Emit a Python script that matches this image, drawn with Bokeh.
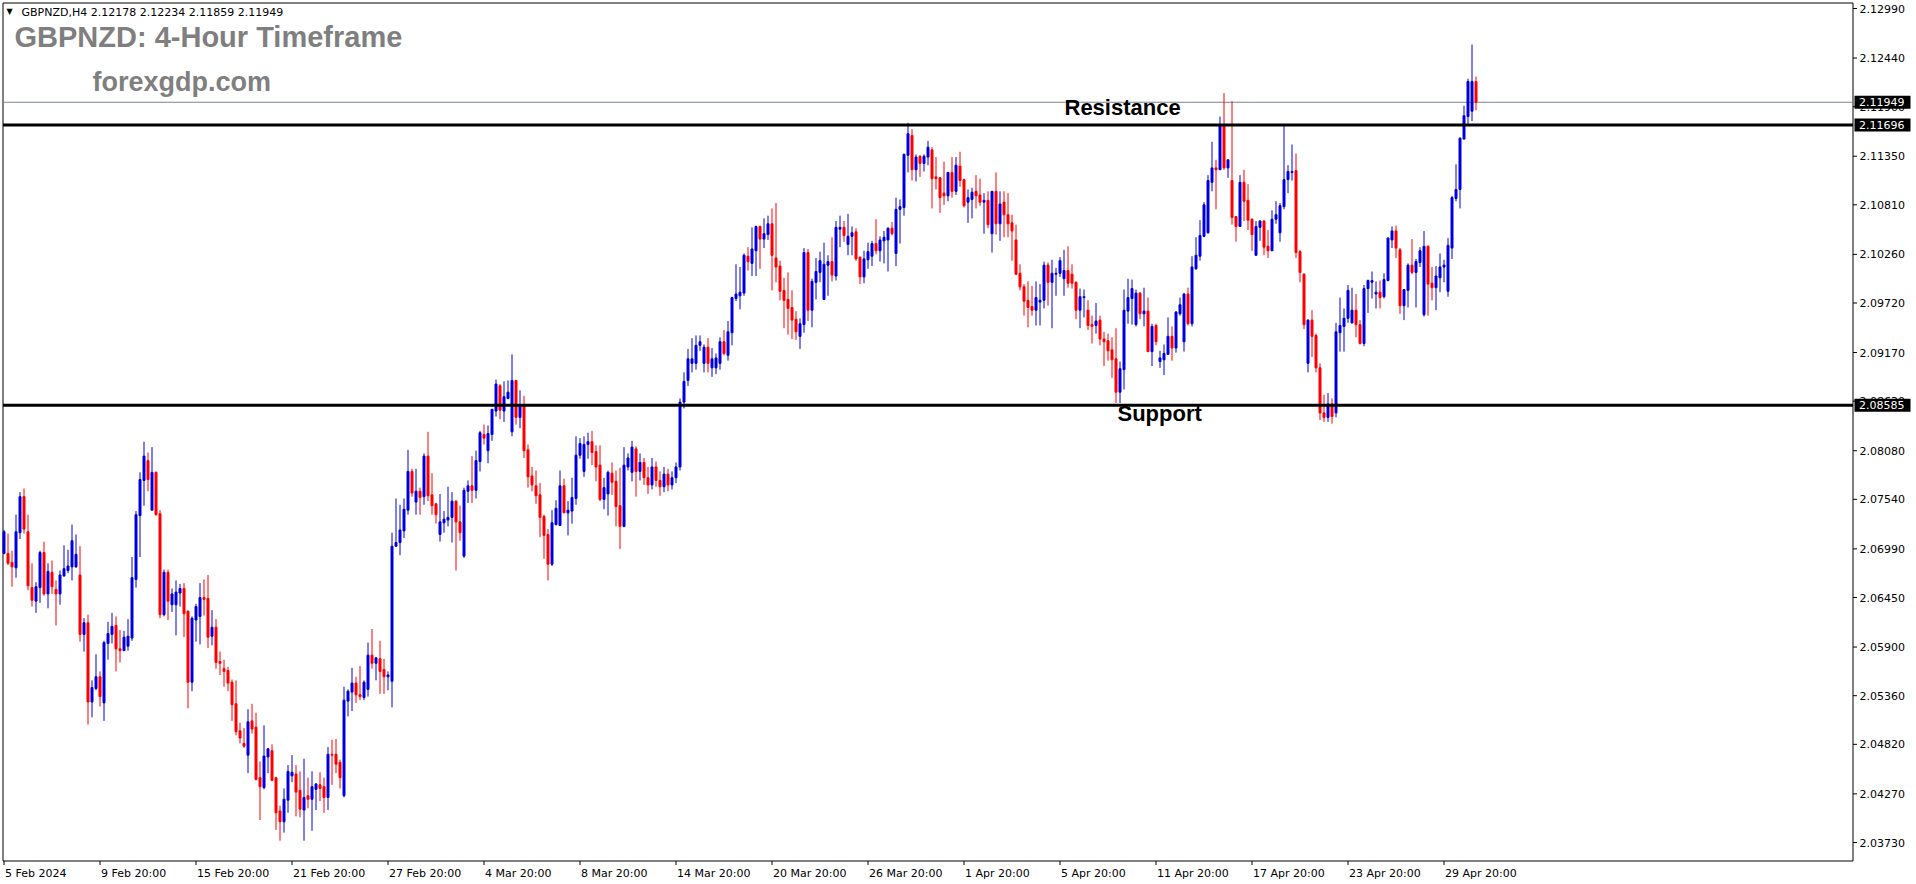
from bokeh.plotting import figure
from bokeh.models import Range1d, Label, ColumnDataSource
from bokeh.core.properties import value
from bokeh.embed import file_html
from bokeh.resources import INLINE

# ---------------- data (GBPNZD H4) ----------------
opens = [
    2.0694, 2.0694, 2.0684, 2.0678, 2.0717, 2.0757, 2.0718, 2.0656, 2.0641, 2.0656,
    2.0695, 2.0649, 2.0673, 2.0654, 2.0649, 2.0669, 2.0675, 2.0679, 2.0679, 2.0670,
    2.0604, 2.0617, 2.0529, 2.0544, 2.0557, 2.0528, 2.0594, 2.0604, 2.0614, 2.0588,
    2.0586, 2.0591, 2.0600, 2.0665, 2.0736, 2.0775, 2.0797, 2.0742, 2.0784, 2.0738,
    2.0626, 2.0673, 2.0637, 2.0637, 2.0650, 2.0655, 2.0630, 2.0551, 2.0620, 2.0624,
    2.0645, 2.0644, 2.0602, 2.0612, 2.0574, 2.0566, 2.0564, 2.0551, 2.0527, 2.0497,
    2.0483, 2.0470, 2.0508, 2.0501, 2.0445, 2.0434, 2.0468, 2.0475, 2.0445, 2.0408,
    2.0396, 2.0420, 2.0447, 2.0449, 2.0431, 2.0409, 2.0425, 2.0421, 2.0432, 2.0437,
    2.0435, 2.0423, 2.0471, 2.0471, 2.0462, 2.0425, 2.0530, 2.0540, 2.0550, 2.0537,
    2.0534, 2.0543, 2.0581, 2.0572, 2.0577, 2.0565, 2.0557, 2.0552, 2.0702, 2.0706,
    2.0719, 2.0742, 2.0785, 2.0751, 2.0763, 2.0757, 2.0802, 2.0759, 2.0749, 2.0715,
    2.0728, 2.0731, 2.0734, 2.0752, 2.0729, 2.0691, 2.0763, 2.0769, 2.0764, 2.0796,
    2.0826, 2.0808, 2.0826, 2.0852, 2.0880, 2.0852, 2.0866, 2.0829, 2.0886, 2.0845,
    2.0858, 2.0809, 2.0780, 2.0769, 2.0759, 2.0735, 2.0715, 2.0682, 2.0726, 2.0725,
    2.0769, 2.0739, 2.0741, 2.0755, 2.0803, 2.0785, 2.0815, 2.0818, 2.0807, 2.0792,
    2.0754, 2.0760, 2.0783, 2.0774, 2.0747, 2.0724, 2.0790, 2.0784, 2.0810, 2.0785,
    2.0795, 2.0778, 2.0770, 2.0790, 2.0775, 2.0768, 2.0782, 2.0770, 2.0778, 2.0790,
    2.0862, 2.0886, 2.0905, 2.0905, 2.0925, 2.0905, 2.0923, 2.0900, 2.0900, 2.0905,
    2.0929, 2.0914, 2.0939, 2.0977, 2.0980, 2.0983, 2.1024, 2.1016, 2.1030, 2.1057,
    2.1043, 2.1048, 2.1060, 2.1022, 2.1013, 2.0986, 2.0976, 2.0967, 2.0954, 2.0935,
    2.0948, 2.1028, 2.0964, 2.0995, 2.1006, 2.0976, 2.1014, 2.1018, 2.1002, 2.1054,
    2.1056, 2.1037, 2.1046, 2.1051, 2.1023, 2.1001, 2.1020, 2.1024, 2.1038, 2.1030,
    2.1041, 2.1042, 2.1055, 2.1027, 2.1076, 2.1078, 2.1136, 2.1158, 2.1120, 2.1135,
    2.1127, 2.1134, 2.1142, 2.1112, 2.1111, 2.1094, 2.1091, 2.1117, 2.1096, 2.1124,
    2.1109, 2.1084, 2.1087, 2.1096, 2.1092, 2.1084, 2.1086, 2.1049, 2.1096, 2.1060,
    2.1084, 2.1070, 2.1061, 2.1042, 2.1005, 2.0990, 2.0975, 2.0968, 2.0964, 2.0973,
    2.0975, 2.1014, 2.0995, 2.1004, 2.1005, 2.0999, 2.1008, 2.1004, 2.0995, 2.0964,
    2.0978, 2.0964, 2.0948, 2.0947, 2.0953, 2.0932, 2.0930, 2.0920, 2.0910, 2.0873,
    2.0898, 2.0963, 2.0977, 2.0948, 2.0983, 2.0960, 2.0963, 2.0918, 2.0947, 2.0907,
    2.0909, 2.0915, 2.0935, 2.0922, 2.0960, 2.0929, 2.0982, 2.0949, 2.1010, 2.1024,
    2.1046, 2.1050, 2.1106, 2.1122, 2.1120, 2.1169, 2.1122, 2.1108, 2.1068, 2.1057,
    2.1106, 2.1086, 2.1065, 2.1025, 2.1056, 2.1063, 2.1035, 2.1030, 2.1065, 2.1050,
    2.1079, 2.1109, 2.1117, 2.1119, 2.1029, 2.1004, 2.0905, 2.0953, 2.0936, 2.0900,
    2.0850, 2.0845, 2.0860, 2.0850, 2.0939, 2.0946, 2.0955, 2.0950, 2.0964, 2.0948,
    2.0927, 2.0988, 2.0995, 2.0982, 2.0984, 2.0979, 2.0997, 2.1042, 2.1052, 2.1031,
    2.0969, 2.0986, 2.1014, 2.1006, 2.1017, 2.0959, 2.1035, 2.0994, 2.0989, 2.1000,
    2.1012, 2.0985, 2.1033, 2.1088, 2.1098, 2.1154, 2.1179, 2.1185, 2.12178,
]
highs = [
    2.0720, 2.0716, 2.0697, 2.0737, 2.0762, 2.0766, 2.0737, 2.0683, 2.0662, 2.0697,
    2.0707, 2.0683, 2.0686, 2.0664, 2.0675, 2.0703, 2.0698, 2.0726, 2.0715, 2.0702,
    2.0622, 2.0626, 2.0553, 2.0582, 2.0563, 2.0597, 2.0618, 2.0628, 2.0624, 2.0609,
    2.0608, 2.0621, 2.0690, 2.0741, 2.0784, 2.0818, 2.0806, 2.0812, 2.0785, 2.0742,
    2.0676, 2.0676, 2.0655, 2.0664, 2.0660, 2.0661, 2.0630, 2.0624, 2.0638, 2.0661,
    2.0665, 2.0670, 2.0631, 2.0621, 2.0585, 2.0576, 2.0568, 2.0554, 2.0553, 2.0506,
    2.0500, 2.0521, 2.0527, 2.0517, 2.0463, 2.0503, 2.0478, 2.0482, 2.0446, 2.0414,
    2.0433, 2.0459, 2.0470, 2.0459, 2.0452, 2.0466, 2.0445, 2.0452, 2.0439, 2.0451,
    2.0445, 2.0479, 2.0487, 2.0488, 2.0465, 2.0546, 2.0543, 2.0567, 2.0557, 2.0569,
    2.0553, 2.0595, 2.0610, 2.0579, 2.0597, 2.0577, 2.0563, 2.0717, 2.0755, 2.0748,
    2.0755, 2.0809, 2.0788, 2.0788, 2.0767, 2.0805, 2.0829, 2.0783, 2.0750, 2.0760,
    2.0741, 2.0768, 2.0762, 2.0753, 2.0747, 2.0767, 2.0775, 2.0802, 2.0808, 2.0830,
    2.0837, 2.0836, 2.0854, 2.0887, 2.0882, 2.0885, 2.0886, 2.0915, 2.0886, 2.0875,
    2.0869, 2.0815, 2.0790, 2.0786, 2.0772, 2.0737, 2.0721, 2.0742, 2.0753, 2.0786,
    2.0777, 2.0752, 2.0778, 2.0824, 2.0822, 2.0824, 2.0828, 2.0830, 2.0814, 2.0814,
    2.0778, 2.0786, 2.0795, 2.0786, 2.0789, 2.0812, 2.0805, 2.0819, 2.0813, 2.0805,
    2.0800, 2.0790, 2.0800, 2.0796, 2.0785, 2.0790, 2.0788, 2.0785, 2.0795, 2.0866,
    2.0895, 2.0921, 2.0933, 2.0936, 2.0936, 2.0926, 2.0933, 2.0922, 2.0916, 2.0934,
    2.0942, 2.0952, 2.0979, 2.1015, 2.1012, 2.1027, 2.1034, 2.1056, 2.1058, 2.1058,
    2.1066, 2.1069, 2.1077, 2.1083, 2.1019, 2.1000, 2.1006, 2.0986, 2.0963, 2.0955,
    2.1033, 2.1032, 2.0999, 2.1022, 2.1029, 2.1039, 2.1025, 2.1045, 2.1063, 2.1069,
    2.1063, 2.1071, 2.1057, 2.1055, 2.1023, 2.1030, 2.1039, 2.1041, 2.1065, 2.1046,
    2.1052, 2.1056, 2.1062, 2.1089, 2.1087, 2.1138, 2.1172, 2.1165, 2.1137, 2.1136,
    2.1137, 2.1152, 2.1145, 2.1134, 2.1112, 2.1129, 2.1117, 2.1134, 2.1134, 2.1140,
    2.1110, 2.1098, 2.1100, 2.1114, 2.1110, 2.1094, 2.1096, 2.1096, 2.1117, 2.1096,
    2.1096, 2.1094, 2.1070, 2.1059, 2.1015, 2.0993, 2.0996, 2.0991, 2.0996, 2.0993,
    2.1018, 2.1017, 2.1020, 2.1011, 2.1023, 2.1031, 2.1035, 2.1015, 2.0996, 2.0988,
    2.0987, 2.0975, 2.0958, 2.0972, 2.0958, 2.0940, 2.0938, 2.0934, 2.0944, 2.0907,
    2.0987, 2.0999, 2.0998, 2.0987, 2.0984, 2.0989, 2.0978, 2.0949, 2.0949, 2.0919,
    2.0926, 2.0956, 2.0946, 2.0963, 2.0978, 2.0983, 2.0989, 2.1024, 2.1045, 2.1064,
    2.1084, 2.1114, 2.1151, 2.1131, 2.1179, 2.1205, 2.1131, 2.1196, 2.1068, 2.1114,
    2.1120, 2.1104, 2.1066, 2.1063, 2.1064, 2.1064, 2.1053, 2.1075, 2.1085, 2.1083,
    2.1169, 2.1125, 2.1148, 2.1138, 2.1031, 2.1005, 2.0954, 2.0964, 2.0938, 2.0905,
    2.0870, 2.0872, 2.0866, 2.0950, 2.0978, 2.0966, 2.0992, 2.0989, 2.0982, 2.0953,
    2.0992, 2.0998, 2.1007, 2.0996, 2.0997, 2.1005, 2.1045, 2.1057, 2.1058, 2.1033,
    2.0987, 2.1016, 2.1043, 2.1021, 2.1034, 2.1052, 2.1036, 2.1012, 2.1013, 2.1027,
    2.1020, 2.1044, 2.1091, 2.1126, 2.1156, 2.1191, 2.1221, 2.1259, 2.12234,
]
lows = [
    2.0693, 2.0681, 2.0657, 2.0667, 2.0710, 2.0716, 2.0653, 2.0635, 2.0628, 2.0639,
    2.0647, 2.0633, 2.0649, 2.0614, 2.0637, 2.0668, 2.0672, 2.0664, 2.0678, 2.0596,
    2.0585, 2.0504, 2.0512, 2.0542, 2.0524, 2.0508, 2.0576, 2.0594, 2.0563, 2.0573,
    2.0586, 2.0586, 2.0597, 2.0656, 2.0690, 2.0747, 2.0763, 2.0742, 2.0736, 2.0622,
    2.0624, 2.0620, 2.0629, 2.0603, 2.0635, 2.0601, 2.0522, 2.0541, 2.0596, 2.0593,
    2.0625, 2.0589, 2.0592, 2.0566, 2.0559, 2.0546, 2.0541, 2.0508, 2.0492, 2.0483,
    2.0478, 2.0450, 2.0494, 2.0442, 2.0398, 2.0432, 2.0450, 2.0441, 2.0387, 2.0375,
    2.0384, 2.0406, 2.0440, 2.0402, 2.0401, 2.0375, 2.0411, 2.0386, 2.0409, 2.0419,
    2.0406, 2.0409, 2.0437, 2.0450, 2.0433, 2.0423, 2.0513, 2.0519, 2.0528, 2.0531,
    2.0531, 2.0535, 2.0566, 2.0553, 2.0538, 2.0538, 2.0542, 2.0523, 2.0701, 2.0692,
    2.0711, 2.0737, 2.0757, 2.0737, 2.0737, 2.0748, 2.0752, 2.0737, 2.0727, 2.0707,
    2.0717, 2.0724, 2.0706, 2.0675, 2.0708, 2.0689, 2.0750, 2.0750, 2.0755, 2.0785,
    2.0815, 2.0794, 2.0819, 2.0846, 2.0843, 2.0840, 2.0865, 2.0824, 2.0837, 2.0833,
    2.0800, 2.0767, 2.0763, 2.0749, 2.0712, 2.0688, 2.0664, 2.0680, 2.0725, 2.0725,
    2.0739, 2.0714, 2.0727, 2.0748, 2.0799, 2.0779, 2.0799, 2.0792, 2.0774, 2.0752,
    2.0743, 2.0736, 2.0759, 2.0724, 2.0699, 2.0723, 2.0786, 2.0774, 2.0757, 2.0775,
    2.0770, 2.0760, 2.0765, 2.0768, 2.0758, 2.0762, 2.0763, 2.0765, 2.0772, 2.0786,
    2.0855, 2.0880, 2.0895, 2.0898, 2.0919, 2.0895, 2.0895, 2.0890, 2.0893, 2.0898,
    2.0914, 2.0908, 2.0925, 2.0974, 2.0965, 2.0980, 2.1008, 2.1002, 2.1002, 2.1010,
    2.1033, 2.1042, 2.0986, 2.0995, 2.0975, 2.0944, 2.0937, 2.0932, 2.0931, 2.0921,
    2.0939, 2.0952, 2.0945, 2.0976, 2.0995, 2.0976, 2.0980, 2.0996, 2.0997, 2.1034,
    2.1040, 2.1025, 2.1025, 2.1019, 2.0993, 2.0994, 2.1010, 2.1013, 2.1026, 2.1018,
    2.1016, 2.1007, 2.1047, 2.1013, 2.1038, 2.1069, 2.1117, 2.1108, 2.1107, 2.1112,
    2.1118, 2.1125, 2.1077, 2.1098, 2.1072, 2.1081, 2.1085, 2.1089, 2.1092, 2.1101,
    2.1078, 2.1061, 2.1066, 2.1077, 2.1080, 2.1049, 2.1055, 2.1028, 2.1048, 2.1041,
    2.1045, 2.1045, 2.1019, 2.1003, 2.0986, 2.0958, 2.0945, 2.0958, 2.0947, 2.0947,
    2.0966, 2.0969, 2.0944, 2.0980, 2.1001, 2.0980, 2.0989, 2.0988, 2.0954, 2.0944,
    2.0956, 2.0942, 2.0927, 2.0938, 2.0925, 2.0902, 2.0908, 2.0889, 2.0861, 2.0861,
    2.0876, 2.0949, 2.0948, 2.0946, 2.0954, 2.0946, 2.0918, 2.0902, 2.0925, 2.0900,
    2.0892, 2.0915, 2.0908, 2.0917, 2.0958, 2.0918, 2.0947, 2.0946, 2.1009, 2.1019,
    2.1045, 2.1049, 2.1096, 2.1076, 2.1120, 2.1120, 2.1111, 2.1059, 2.1040, 2.1057,
    2.1063, 2.1053, 2.1030, 2.1025, 2.1041, 2.1025, 2.1022, 2.1030, 2.1060, 2.1040,
    2.1076, 2.1094, 2.1108, 2.1022, 2.0995, 2.0943, 2.0895, 2.0912, 2.0895, 2.0842,
    2.0840, 2.0840, 2.0838, 2.0845, 2.0918, 2.0918, 2.0950, 2.0949, 2.0934, 2.0926,
    2.0924, 2.0961, 2.0977, 2.0966, 2.0966, 2.0977, 2.0996, 2.1033, 2.1022, 2.0960,
    2.0953, 2.0967, 2.1004, 2.0967, 2.1012, 2.0957, 2.0958, 2.0975, 2.0964, 2.0984,
    2.0995, 2.0979, 2.1021, 2.1085, 2.1077, 2.1154, 2.1171, 2.1174, 2.11859,
]
closes = [
    2.0718, 2.0683, 2.0679, 2.0718, 2.0757, 2.0721, 2.0658, 2.0642, 2.0657, 2.0695,
    2.0649, 2.0674, 2.0657, 2.0649, 2.0670, 2.0677, 2.0680, 2.0708, 2.0693, 2.0604,
    2.0617, 2.0529, 2.0545, 2.0557, 2.0535, 2.0595, 2.0605, 2.0613, 2.0588, 2.0586,
    2.0601, 2.0602, 2.0667, 2.0737, 2.0776, 2.0802, 2.0776, 2.0784, 2.0737, 2.0626,
    2.0673, 2.0641, 2.0649, 2.0651, 2.0655, 2.0627, 2.0551, 2.0622, 2.0635, 2.0645,
    2.0643, 2.0601, 2.0612, 2.0573, 2.0572, 2.0563, 2.0550, 2.0526, 2.0496, 2.0489,
    2.0480, 2.0507, 2.0499, 2.0443, 2.0435, 2.0469, 2.0477, 2.0442, 2.0406, 2.0396,
    2.0421, 2.0452, 2.0451, 2.0429, 2.0410, 2.0423, 2.0421, 2.0435, 2.0438, 2.0433,
    2.0423, 2.0471, 2.0470, 2.0460, 2.0445, 2.0531, 2.0541, 2.0550, 2.0537, 2.0535,
    2.0551, 2.0581, 2.0572, 2.0578, 2.0563, 2.0557, 2.0559, 2.0702, 2.0706, 2.0720,
    2.0743, 2.0785, 2.0761, 2.0763, 2.0756, 2.0802, 2.0758, 2.0747, 2.0737, 2.0729,
    2.0732, 2.0734, 2.0752, 2.0729, 2.0717, 2.0764, 2.0769, 2.0764, 2.0797, 2.0828,
    2.0822, 2.0827, 2.0854, 2.0882, 2.0853, 2.0868, 2.0873, 2.0886, 2.0845, 2.0858,
    2.0808, 2.0779, 2.0770, 2.0758, 2.0734, 2.0714, 2.0682, 2.0728, 2.0744, 2.0769,
    2.0739, 2.0742, 2.0756, 2.0803, 2.0816, 2.0815, 2.0818, 2.0806, 2.0790, 2.0754,
    2.0767, 2.0784, 2.0773, 2.0746, 2.0724, 2.0792, 2.0800, 2.0812, 2.0785, 2.0795,
    2.0778, 2.0770, 2.0790, 2.0775, 2.0768, 2.0782, 2.0770, 2.0778, 2.0790, 2.0862,
    2.0885, 2.0910, 2.0910, 2.0925, 2.0929, 2.0923, 2.0905, 2.0910, 2.0911, 2.0929,
    2.0916, 2.0940, 2.0978, 2.0982, 2.0984, 2.1025, 2.1018, 2.1032, 2.1057, 2.1043,
    2.1049, 2.1060, 2.1025, 2.1012, 2.0985, 2.0975, 2.0966, 2.0953, 2.0940, 2.0949,
    2.1028, 2.0964, 2.0996, 2.1007, 2.1019, 2.1015, 2.1018, 2.1003, 2.1056, 2.1056,
    2.1047, 2.1046, 2.1050, 2.1021, 2.1001, 2.1021, 2.1029, 2.1038, 2.1030, 2.1042,
    2.1045, 2.1055, 2.1049, 2.1076, 2.1079, 2.1137, 2.1160, 2.1120, 2.1134, 2.1127,
    2.1135, 2.1145, 2.1110, 2.1110, 2.1089, 2.1091, 2.1117, 2.1096, 2.1125, 2.1108,
    2.1080, 2.1089, 2.1095, 2.1091, 2.1084, 2.1086, 2.1059, 2.1096, 2.1060, 2.1082,
    2.1070, 2.1060, 2.1052, 2.1004, 2.0990, 2.0974, 2.0967, 2.0964, 2.0978, 2.0975,
    2.1014, 2.0995, 2.1005, 2.1005, 2.1019, 2.1008, 2.0994, 2.0994, 2.0964, 2.0979,
    2.0979, 2.0947, 2.0946, 2.0952, 2.0932, 2.0929, 2.0919, 2.0909, 2.0873, 2.0899,
    2.0964, 2.0978, 2.0988, 2.0983, 2.0960, 2.0963, 2.0918, 2.0946, 2.0929, 2.0911,
    2.0916, 2.0935, 2.0922, 2.0962, 2.0970, 2.0982, 2.0949, 2.1012, 2.1025, 2.1047,
    2.1081, 2.1108, 2.1122, 2.1120, 2.1169, 2.1122, 2.1131, 2.1067, 2.1057, 2.1106,
    2.1085, 2.1064, 2.1048, 2.1057, 2.1063, 2.1034, 2.1030, 2.1065, 2.1070, 2.1080,
    2.1109, 2.1118, 2.1118, 2.1028, 2.1006, 2.0948, 2.0953, 2.0935, 2.0900, 2.0850,
    2.0845, 2.0860, 2.0846, 2.0940, 2.0947, 2.0955, 2.0986, 2.0964, 2.0948, 2.0927,
    2.0988, 2.0997, 2.0997, 2.0984, 2.0978, 2.0998, 2.1044, 2.1052, 2.1033, 2.0969,
    2.0987, 2.1014, 2.1006, 2.1018, 2.1030, 2.1035, 2.0993, 2.0989, 2.1002, 2.1012,
    2.1014, 2.1036, 2.1089, 2.1098, 2.1155, 2.1180, 2.1218, 2.1218, 2.11949,
]

time_tick_bars = [1, 25, 49, 73, 97, 121, 145, 169, 193, 217, 241, 265, 289, 313, 337, 361]
time_tick_labels = ["5 Feb 2024", "9 Feb 20:00", "15 Feb 20:00", "21 Feb 20:00", "27 Feb 20:00",
                    "4 Mar 20:00", "8 Mar 20:00", "14 Mar 20:00", "20 Mar 20:00", "26 Mar 20:00",
                    "1 Apr 20:00", "5 Apr 20:00", "11 Apr 20:00", "17 Apr 20:00", "23 Apr 20:00",
                    "29 Apr 20:00"]
price_ticks = [2.12990, 2.12440, 2.11900, 2.11350, 2.10810, 2.10260, 2.09720, 2.09170, 2.08630,
               2.08080, 2.07540, 2.06990, 2.06450, 2.05900, 2.05360, 2.04820, 2.04270, 2.03730]
resistance_level = 2.11696
support_level = 2.08585
bid_price = 2.11949
symbol_info = "GBPNZD,H4  2.12178 2.12234 2.11859 2.11949"
title_text = "GBPNZD: 4-Hour Timeframe"
site_text = "forexgdp.com"

# ---------------- layout (page pixels) ----------------
W, H = 1916, 884
CL, CT, CR, CB = 2.5, 2.5, 1852.5, 860.5    # MT4 chart box edges
PX_PER_BAR = 4.0
FIRST_CENTER = 3.5
x_start = 1 - FIRST_CENTER / PX_PER_BAR
x_end = x_start + W / PX_PER_BAR
ppp = (price_ticks[0] - price_ticks[-1]) / 834.0     # price per pixel
y_top = price_ticks[0] + 8 * ppp
y_bot = price_ticks[0] - (H - 8) * ppp


def xd(px):
    return x_start + px / PX_PER_BAR


def yd(py):
    return y_top - py * ppp


BULL = "#0000dd"
BEAR = "#ff0000"
FONT = value("DejaVu Sans")

p = figure(width=W, height=H, x_range=Range1d(x_start, x_end), y_range=Range1d(y_bot, y_top),
           output_backend="svg", toolbar_location=None, tools="",
           x_axis_location=None, y_axis_location=None,
           min_border_left=0, min_border_top=0, min_border_right=0, min_border_bottom=0)
p.background_fill_color = "white"
p.border_fill_color = "white"
p.outline_line_color = None
for g in p.grid:
    g.visible = False

# chart box
p.quad(left=[xd(CL)], right=[xd(CR)], top=[yd(CT)], bottom=[yd(CB)],
       fill_color=None, line_color="black", line_width=1)

# bid line (behind candles)
p.segment(x0=[xd(CL)], x1=[xd(CR)], y0=[bid_price], y1=[bid_price],
          line_color="#7a8591", line_width=1)

# ---------------- candles ----------------
n = len(closes)
xs = list(range(1, n + 1))
colors = [BULL if c >= o else BEAR for o, c in zip(opens, closes)]
src = ColumnDataSource(dict(
    x=xs, o=opens, h=highs, l=lows, c=closes,
    top=[max(o, c) for o, c in zip(opens, closes)],
    bot=[min(o, c) for o, c in zip(opens, closes)],
    col=colors))
p.segment(x0="x", y0="l", x1="x", y1="h", line_color="col", line_width=1, source=src)
p.vbar(x="x", width=0.5, top="top", bottom="bot", fill_color="col", line_color="col",
       line_width=1, source=src)

# ---------------- support / resistance ----------------
p.segment(x0=[xd(CL), xd(CL)], x1=[xd(CR), xd(CR)],
          y0=[resistance_level, support_level], y1=[resistance_level, support_level],
          line_color="black", line_width=3)

# ---------------- price scale (right) ----------------
p.segment(x0=[xd(CR)] * len(price_ticks), x1=[xd(CR + 4)] * len(price_ticks),
          y0=price_ticks, y1=price_ticks, line_color="black", line_width=1)
p.text(x=[xd(1859)] * len(price_ticks), y=price_ticks, text=["%.5f" % v for v in price_ticks],
       text_font=FONT, text_font_size="11px", text_color="black",
       text_align="left", text_baseline="middle")

box_prices = [bid_price, resistance_level, support_level]
p.quad(left=[xd(1854)] * 3, right=[xd(1910)] * 3,
       top=[v + 6.5 * ppp for v in box_prices], bottom=[v - 6.5 * ppp for v in box_prices],
       fill_color="black", line_color=None)
p.text(x=[xd(1858.5)] * 3, y=box_prices, text=["%.5f" % v for v in box_prices],
       text_font=FONT, text_font_size="11px", text_color="white",
       text_align="left", text_baseline="middle")

# ---------------- time scale (bottom) ----------------
p.segment(x0=time_tick_bars, x1=time_tick_bars,
          y0=[yd(CB)] * len(time_tick_bars), y1=[yd(CB + 4)] * len(time_tick_bars),
          line_color="black", line_width=1)
p.text(x=time_tick_bars, y=[yd(866)] * len(time_tick_bars), text=time_tick_labels,
       x_offset=1, text_font=FONT, text_font_size="11px", text_color="black",
       text_align="left", text_baseline="top")


# ---------------- texts ----------------
def add_text(cx, cy, s, font, size, color, bold=False):
    p.add_layout(Label(x=cx, y=H - cy, x_units="screen", y_units="screen", text=s,
                       text_font=font, text_font_size=size, text_color=color,
                       text_font_style="bold" if bold else "normal",
                       text_baseline="alphabetic"))


add_text(6, 11, "\u25bc", "DejaVu Sans", "8px", "black")
add_text(21, 12, symbol_info, "DejaVu Sans", "11px", "black")
add_text(14, 36, title_text, "Liberation Sans", "29px", "#7f7f7f", bold=True)
add_text(92, 81, site_text, "Liberation Sans", "27px", "#7f7f7f", bold=True)
add_text(1064, 107, "Resistance", "Liberation Sans", "22px", "black", bold=True)
add_text(1117, 413, "Support", "Liberation Sans", "22px", "black", bold=True)

open("out.html", "w").write(file_html(p, INLINE))
